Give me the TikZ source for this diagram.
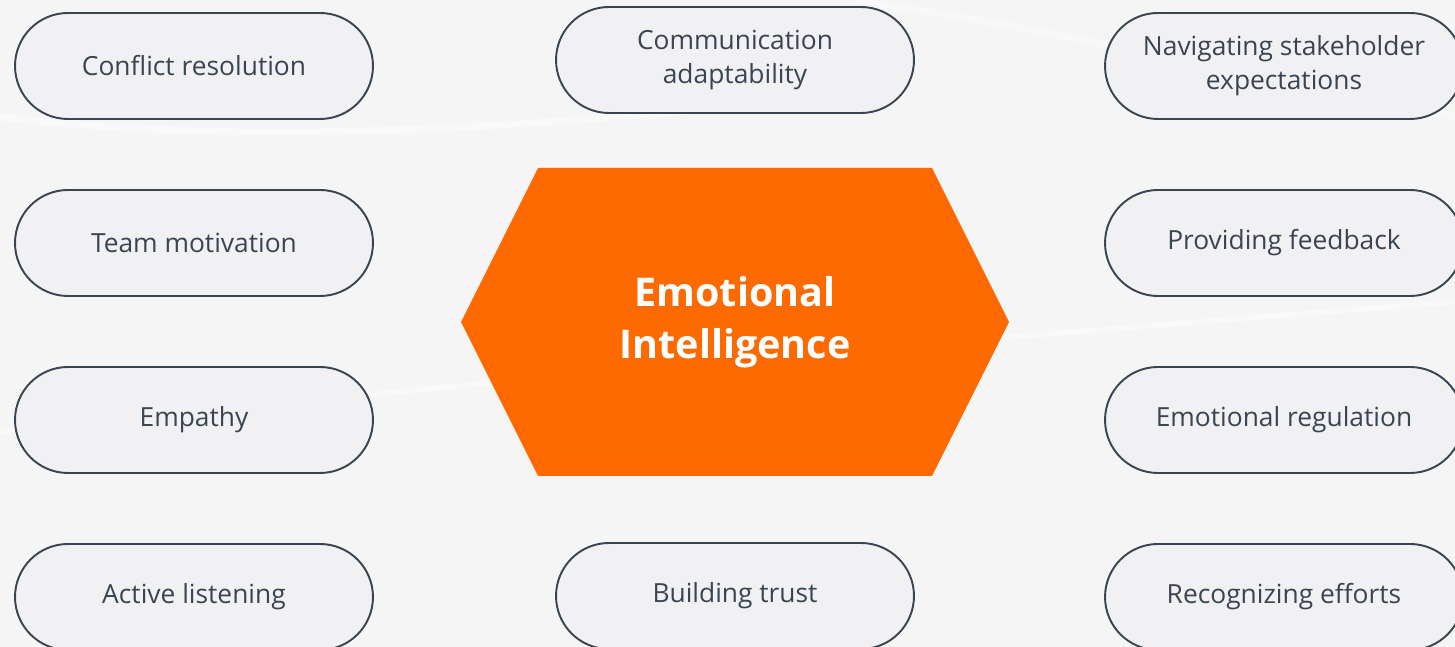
\documentclass[tikz,border=0pt]{standalone}
\usepackage{fontspec}
\setmainfont{Open Sans}
\usetikzlibrary{shapes.misc}
\definecolor{bgcol}{HTML}{F5F5F6}
\definecolor{pillfill}{HTML}{F1F1F3}
\definecolor{slate}{HTML}{3A4552}
\definecolor{hexorange}{HTML}{FF6A00}
\tikzstyle{skill} = [rounded rectangle, minimum width = 7.3cm, minimum height = 2.12cm, inner sep = 2pt, align = center, text centered, draw = slate, line width = 1.1pt, fill = pillfill, text = slate, font = \fontsize{15}{19.4}\selectfont]
\tikzstyle{core} = [align = center, text = white, font = \fontsize{22.5}{29.6}\selectfont\bfseries]

\begin{document}
\begin{tikzpicture}[node distance = 3.54cm]
    \useasboundingbox (0,0) rectangle (29.1,12.94);
    \fill[bgcol] (0,0) rectangle (29.1,12.94);
    % faint light streaks in the background
    \draw[white, line width = 4pt, opacity = 0.45] (0,10.6) .. controls (6,9.9) and (12,10.6) .. (16,10.9);
    \draw[white, line width = 3pt, opacity = 0.4] (0,4.3) .. controls (6,4.9) and (12,5.6) .. (29.1,6.9);
    \draw[white, line width = 4pt, opacity = 0.35] (17,12.94) .. controls (21,12.4) and (25,11.4) .. (29.1,10.6);

    % centre hexagon
    \fill[hexorange] (9.22,6.50) -- (10.76,9.58) -- (18.64,9.58) -- (20.18,6.50) -- (18.64,3.42) -- (10.76,3.42) -- cycle;
    \node(ei)[core] at (14.70,6.50){Emotional\\Intelligence};

    % left column
    \node(l1)[skill] at (3.88,11.62){Conflict resolution};
    \node(l2)[skill, below of = l1]{Team motivation};
    \node(l3)[skill, below of = l2]{Empathy};
    \node(l4)[skill, below of = l3]{Active listening};

    % middle column
    \node(m1)[skill] at (14.70,11.74){Communication\\adaptability};
    \node(m2)[skill] at (14.70,1.02){Building trust};

    % right column
    \node(r1)[skill] at (25.68,11.62){Navigating stakeholder\\expectations};
    \node(r2)[skill, below of = r1]{Providing feedback};
    \node(r3)[skill, below of = r2]{Emotional regulation};
    \node(r4)[skill, below of = r3]{Recognizing efforts};
\end{tikzpicture}
\end{document}
